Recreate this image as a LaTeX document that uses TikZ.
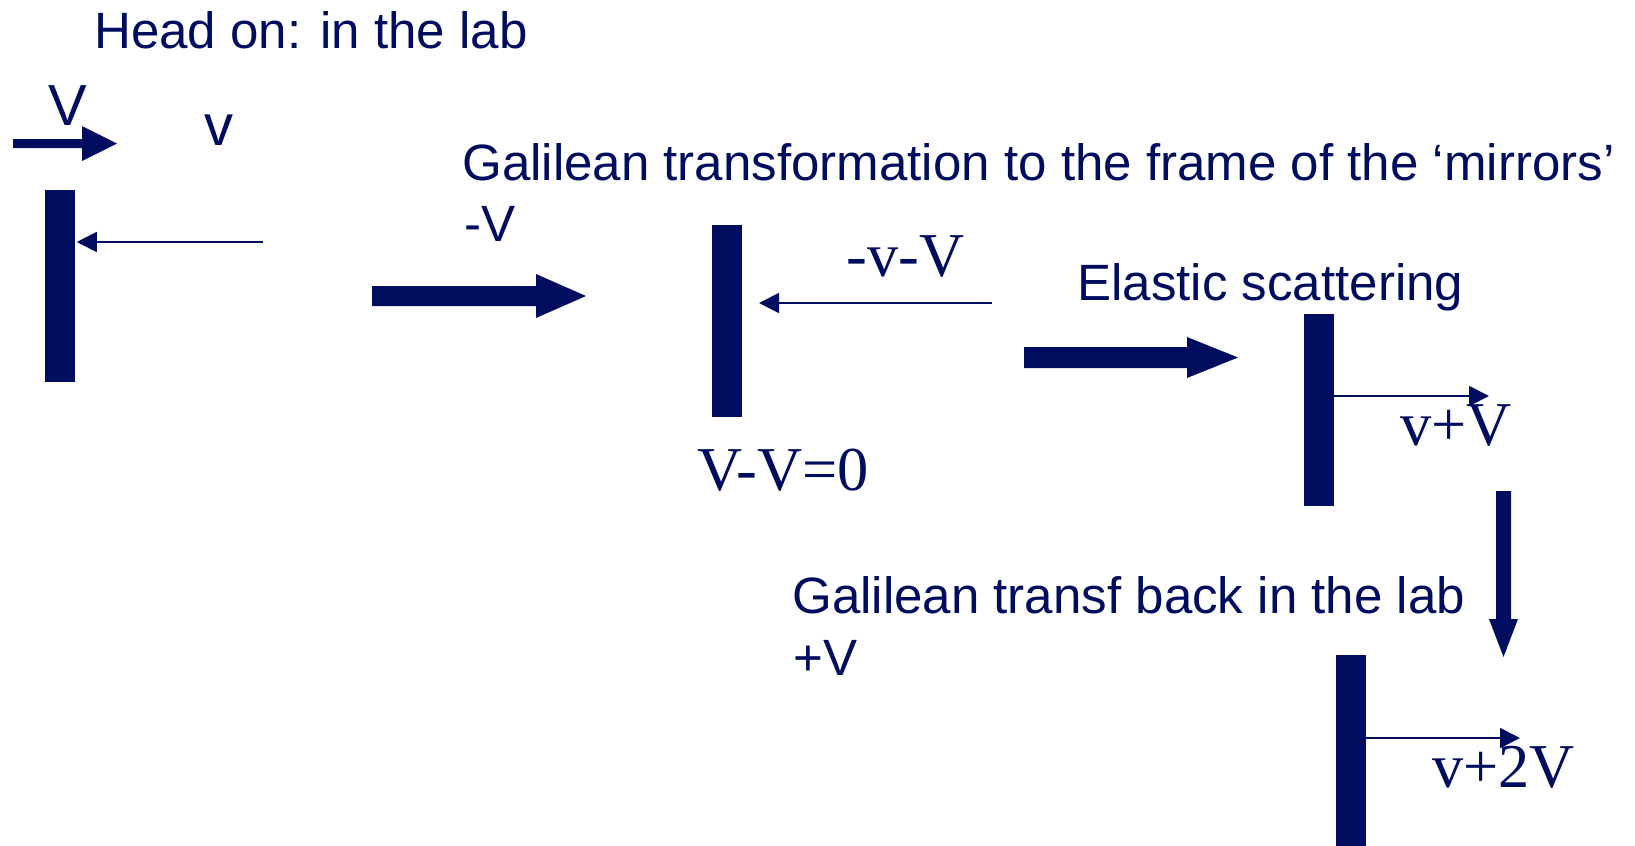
\documentclass[tikz,border=0pt]{standalone}
\usepackage{fontspec}
\setmainfont{Liberation Serif}
\setsansfont{Liberation Sans}
\usetikzlibrary{arrows.meta}
\definecolor{navy}{RGB}{0,12,94}

\tikzset{
  mirror/.style={fill=navy,draw=none,inner sep=0pt,minimum width=22.5pt,minimum height=144pt},
  ray/.style={draw=navy,line width=1.4pt,-{Triangle[length=15pt,width=15pt]}},
  boost/.style={fill=navy,draw=none},
  note/.style={anchor=base west,inner sep=0pt,text=navy,font=\sffamily\fontsize{38.3}{40}\selectfont},
  speed/.style={anchor=base west,inner sep=0pt,text=navy,font=\rmfamily\fontsize{46.8}{48}\selectfont},
}

\begin{document}
\begin{tikzpicture}[x=0.75pt,y=0.75pt,yscale=-1,xscale=1]
\useasboundingbox (0,0) rectangle (1635,846);

% mirrors
\node[mirror] (m1) at (59.5,286) {};
\node[mirror] (m2) at (727,321) {};
\node[mirror] (m3) at (1318.5,410) {};
\node[mirror] (m4) at (1350.5,751) {};

% velocities of the ball
\coordinate (in1) at (263,242);
\coordinate (in2) at (992,303);
\coordinate (hit2) at (759,303);
\coordinate (out3) at (1489,396);
\coordinate (out4) at (1520,738);
\draw[ray] (in1) -- ([xshift=1.5pt]m1.east |- in1);
\draw[ray] (in2) -- (hit2);
\draw[ray] (m3.east |- out3) -- (out3);
\draw[ray] (m4.east |- out4) -- (out4);

% block arrows
\fill[boost] (13,139) -- (82,139) -- (82,126) -- (117,143.5) -- (82,161) -- (82,148) -- (13,148) -- cycle;
\fill[boost] (372,286) -- (536,286) -- (536,274) -- (586,296) -- (536,318) -- (536,306) -- (372,306) -- cycle;
\fill[boost] (1024,347) -- (1187,347) -- (1187,337) -- (1238,357.5) -- (1187,378) -- (1187,368) -- (1024,368) -- cycle;
\fill[boost] (1496,491) -- (1496,619) -- (1489,619) -- (1503.5,657) -- (1518,619) -- (1511,619) -- (1511,491) -- cycle;

% texts
\node[note] (head) at (94,48) {Head on: in the lab};
\node[note] (gal) at (462,180) {Galilean transformation to the frame of the ‘mirrors’};
\node[note] (minusV) at (464,241) {-V};
\node[note] (elastic) at (1077,300) {Elastic scattering};
\node[note] (back) at (792,613) {Galilean transf back in the lab};
\node[note] (plusV) at (793,675) {+V};
\node[note,font=\sffamily\fontsize{43.5}{45}\selectfont] (bigV) at (48,125) {V};
\node[note,font=\sffamily\fontsize{43.5}{45}\selectfont] (smallv) at (204,145) {v};
\node[speed] (rel2) at (846,276) {-v-V};
\node[speed] (rest2) at (697,490) {V-V=0};
\node[speed] (lab3) at (1400,445) {v+V};
\node[speed] (lab4) at (1432,787) {v+2V};

\end{tikzpicture}
\end{document}
